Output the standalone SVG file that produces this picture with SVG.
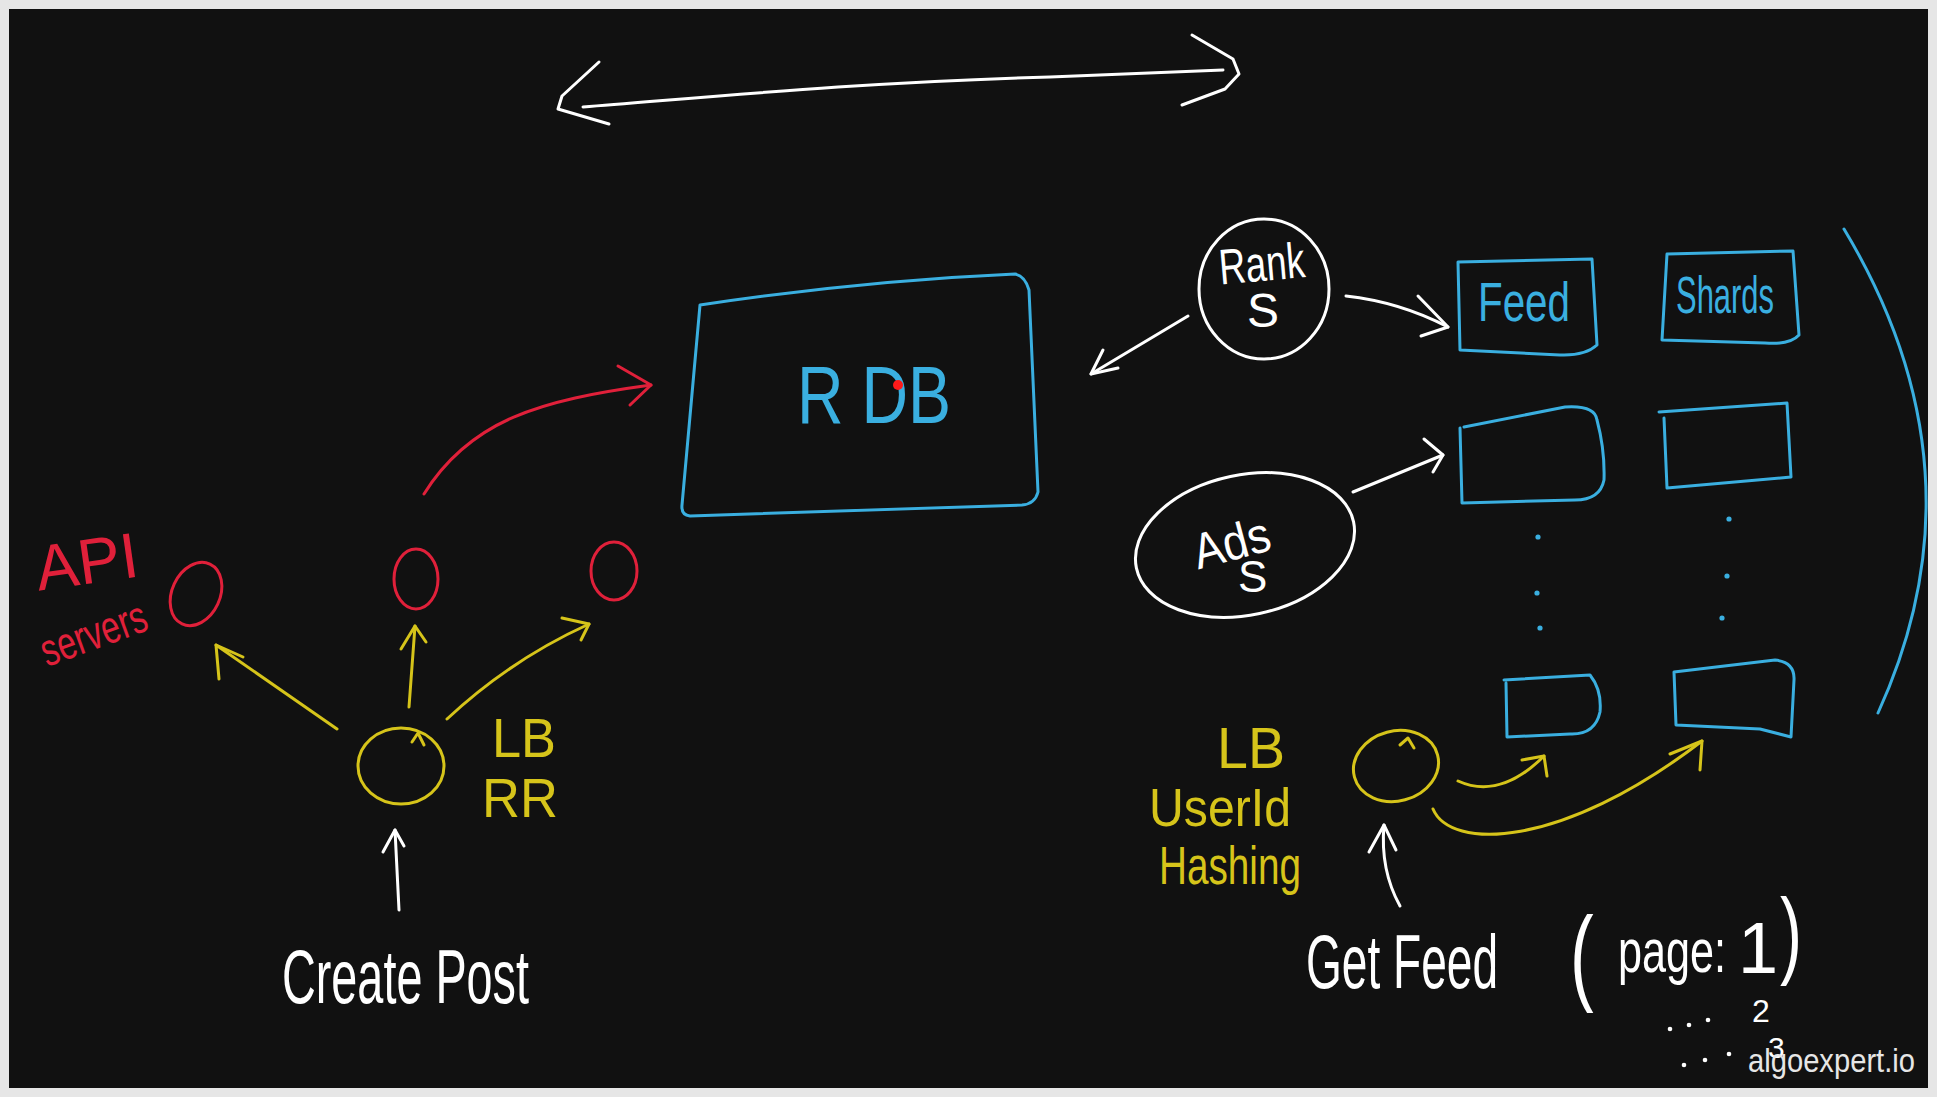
<svg xmlns="http://www.w3.org/2000/svg" width="1937" height="1097" viewBox="0 0 1937 1097">
<style>
.s{fill:none;stroke-width:3;stroke-linecap:round;stroke-linejoin:round}
.w{stroke:#ffffff}.b{stroke:#3aafe0}.r{stroke:#e0203a}.y{stroke:#d6c41a}
.t{font-family:"Liberation Sans","DejaVu Sans",sans-serif}
.tw{fill:#ffffff}.tb{fill:#3aafe0}.tr{fill:#e0203a}.ty{fill:#d6c41a}
</style>
<rect x="0" y="0" width="1937" height="1097" fill="#e6e6e6"/>
<rect x="9" y="9" width="1919" height="1079" fill="#111111"/>

<g id="top-arrow">
<path class="s w" d="M583,107 C700,98 860,82 1050,77 L1223,70"/>
<path class="s w" d="M599,62 L562,96 L558,109 L609,124"/>
<path class="s w" d="M1192,35 L1233,59 L1239,74 L1225,89 L1182,105"/>
</g>

<g id="rdb">
<path class="s b" d="M700,305 C760,296 880,280 1015,274 Q1025,276 1029,290 L1038,492 Q1035,504 1022,505 L690,516 Q681,515 682,505 Z"/>
<text class="t tb" x="797" y="423" font-size="82" textLength="154" lengthAdjust="spacingAndGlyphs">R DB</text>
<circle cx="898" cy="385" r="5" fill="#ff1a1a"/>
</g>

<g id="api-servers">
<text class="t tr" x="35" y="584" font-size="64" textLength="103" lengthAdjust="spacingAndGlyphs" transform="rotate(-8 85 560)">API</text>
<text class="t tr" x="37" y="650" font-size="46" textLength="110" lengthAdjust="spacingAndGlyphs" transform="rotate(-20 90 630)">servers</text>
<ellipse class="s r" cx="196" cy="594" rx="24" ry="33" transform="rotate(25 196 594)"/>
<ellipse class="s r" cx="416" cy="579" rx="22" ry="30"/>
<ellipse class="s r" cx="614" cy="571" rx="23" ry="29"/>
</g>

<g id="lb-rr">
<ellipse class="s y" cx="401" cy="766" rx="43" ry="38"/>
<path class="s y" d="M412,742 L418,733 L424,745"/>
<text class="t ty" x="492" y="757" font-size="56" textLength="64" lengthAdjust="spacingAndGlyphs">LB</text>
<text class="t ty" x="482" y="817" font-size="56" textLength="76" lengthAdjust="spacingAndGlyphs">RR</text>
</g>

<g id="create-post">
<text class="t tw" x="282" y="1003" font-size="76" textLength="247" lengthAdjust="spacingAndGlyphs">Create Post</text>
</g>

<g id="rank-s">
<ellipse class="s w" cx="1264" cy="289" rx="65" ry="70"/>
<text class="t tw" x="1219" y="281" font-size="50" textLength="86" lengthAdjust="spacingAndGlyphs" transform="rotate(-5 1260 265)">Rank</text>
<text class="t tw" x="1247" y="327" font-size="48">S</text>
</g>

<g id="ads-s">
<ellipse class="s w" cx="1245" cy="545" rx="111" ry="70" transform="rotate(-12 1245 545)"/>
<text class="t tw" x="1193" y="560" font-size="50" textLength="78" lengthAdjust="spacingAndGlyphs" transform="rotate(-15 1232 545)">Ads</text>
<text class="t tw" x="1238" y="592" font-size="44">S</text>
</g>

<g id="feed">
<path class="s b" d="M1458,262 L1592,259 L1597,345 Q1585,356 1560,355 L1460,350 Z"/>
<text class="t tb" x="1478" y="321" font-size="56" textLength="92" lengthAdjust="spacingAndGlyphs">Feed</text>
</g>
<g id="shards">
<path class="s b" d="M1667,254 L1793,251 L1799,335 Q1790,345 1765,343 L1662,340 Z"/>
<text class="t tb" x="1676" y="313" font-size="52" textLength="98" lengthAdjust="spacingAndGlyphs">Shards</text>
</g>
<g id="feed-2">
<path class="s b" d="M1464,427 L1565,407 Q1595,405 1597,420 Q1605,450 1604,480 Q1600,500 1575,500 L1462,503 L1460,428"/>
</g>
<g id="shards-2">
<path class="s b" d="M1659,412 L1787,403 L1791,477 L1667,488 L1664,418"/>
</g>
<g id="feed-3">
<path class="s b" d="M1504,680 L1590,675 Q1602,690 1600,712 Q1595,735 1570,734 L1507,737 L1506,683"/>
</g>
<g id="shards-3">
<path class="s b" d="M1674,672 L1775,660 Q1795,662 1794,680 L1791,737 L1760,729 L1676,725 Z"/>
</g>
<g id="dots" fill="#3aafe0">
<circle cx="1538" cy="537" r="2.6"/><circle cx="1537" cy="593" r="2.6"/><circle cx="1540" cy="628" r="2.6"/>
<circle cx="1729" cy="519" r="2.6"/><circle cx="1727" cy="576" r="2.6"/><circle cx="1722" cy="618" r="2.6"/>
</g>
<g id="bracket">
<path class="s b" d="M1844,229 Q1989,470 1878,713"/>
</g>

<g id="lb-hash">
<ellipse class="s y" cx="1396" cy="766" rx="43" ry="35" transform="rotate(-15 1396 766)"/>
<path class="s y" d="M1400,745 L1408,738 L1414,748"/>
<text class="t ty" x="1217" y="768" font-size="58" textLength="68" lengthAdjust="spacingAndGlyphs">LB</text>
<text class="t ty" x="1149" y="826" font-size="54" textLength="142" lengthAdjust="spacingAndGlyphs">UserId</text>
<text class="t ty" x="1159" y="884" font-size="54" textLength="142" lengthAdjust="spacingAndGlyphs">Hashing</text>
</g>

<g id="get-feed">
<text class="t tw" x="1306" y="988" font-size="76" textLength="192" lengthAdjust="spacingAndGlyphs">Get Feed</text>
<text class="t tw" font-size="71" transform="translate(1570,991) scale(1,1.5)">(</text>
<text class="t tw" x="1618" y="972" font-size="62" textLength="108" lengthAdjust="spacingAndGlyphs">page:</text>
<text class="t tw" x="1738" y="973" font-size="72">1</text>
<text class="t tw" font-size="66" transform="translate(1780,966) scale(1,1.45)">)</text>
<text class="t tw" x="1752" y="1022" font-size="32">2</text>
<text class="t tw" x="1768" y="1058" font-size="30">3</text>
<g fill="#ffffff">
<circle cx="1670" cy="1029" r="2.3"/><circle cx="1689" cy="1025" r="2.3"/><circle cx="1708" cy="1020" r="2.3"/>
<circle cx="1684" cy="1065" r="2.3"/><circle cx="1705" cy="1060" r="2.3"/><circle cx="1729" cy="1054" r="2.3"/>
</g>
</g>

<g id="watermark">
<text class="t" x="1748" y="1072" font-size="34" fill="#e6e6e6" textLength="167" lengthAdjust="spacingAndGlyphs">algoexpert.io</text>
</g>

<g id="connectors">
<path class="s r" d="M424,494 C470,420 540,400 651,385"/>
<path class="s r" d="M618,366 L651,385 L630,405"/>
<path class="s y" d="M337,729 L216,645"/>
<path class="s y" d="M219,679 L216,645 L243,657"/>
<path class="s y" d="M409,707 L415,626"/>
<path class="s y" d="M401,649 L415,626 L426,642"/>
<path class="s y" d="M447,719 Q510,660 589,624"/>
<path class="s y" d="M562,618 L589,624 L581,640"/>
<path class="s w" d="M399,910 L395,830"/>
<path class="s w" d="M383,852 L395,830 L404,846"/>
<path class="s w" d="M1188,316 L1091,374"/>
<path class="s w" d="M1103,350 L1091,374 L1118,368"/>
<path class="s w" d="M1346,296 Q1400,302 1448,327"/>
<path class="s w" d="M1418,296 L1448,327 L1421,336"/>
<path class="s w" d="M1353,492 L1443,455"/>
<path class="s w" d="M1424,439 L1443,455 L1433,472"/>
<path class="s y" d="M1458,781 Q1500,800 1544,756"/>
<path class="s y" d="M1522,760 L1544,756 L1547,776"/>
<path class="s y" d="M1433,809 C1450,850 1560,850 1702,741"/>
<path class="s y" d="M1670,754 L1702,741 L1700,770"/>
<path class="s w" d="M1400,906 Q1380,870 1384,825"/>
<path class="s w" d="M1369,852 L1384,825 L1396,850"/>
</g>
</svg>
